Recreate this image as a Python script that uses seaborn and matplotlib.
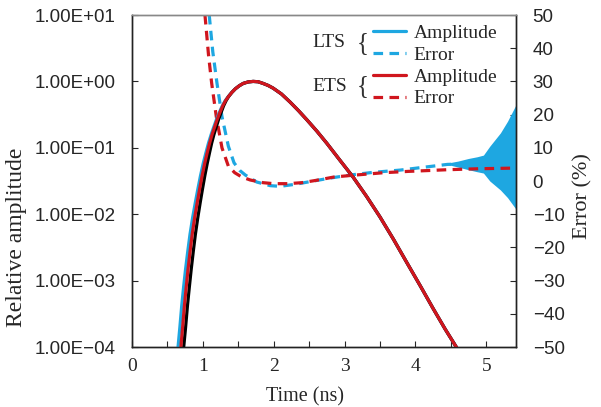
import matplotlib
matplotlib.use("Agg")
import matplotlib.pyplot as plt
import seaborn as sns
from matplotlib.lines import Line2D
from matplotlib.ticker import MultipleLocator, FixedLocator, FuncFormatter

sns.set_style("ticks")
plt.rcParams['font.family'] = ['Liberation Sans', 'DejaVu Sans']
plt.rcParams['font.sans-serif'] = ['Liberation Sans', 'DejaVu Sans']

# --- dados ---
# amplitude relativa (eixo log), mesma forma para as três curvas
amp = [7.9e-5, 1.0e-4, 2.0e-4, 4.2e-4, 7.9e-4, 1.45e-3, 2.75e-3, 5.0e-3, 8.9e-3, 1.48e-2, 2.4e-2,
       3.8e-2, 5.75e-2, 8.3e-2, 0.117, 0.158, 0.204, 0.263, 0.339, 0.427, 0.513, 0.589,
       0.684, 0.776, 0.861, 0.933, 0.982, 1.0, 0.989, 0.933, 0.871, 0.794, 0.646, 0.490,
       0.363, 0.263, 0.178, 0.117, 0.066, 0.0363, 0.0186, 9.1e-3, 4.2e-3, 1.86e-3, 8.3e-4,
       3.8e-4, 1.86e-4, 9.5e-5, 7.9e-5]
t_tail = [1.41, 1.46, 1.515, 1.57, 1.64, 1.71, 1.78, 1.85, 1.92, 1.99, 2.11, 2.23, 2.35, 2.47,
          2.61, 2.75, 2.93, 3.12, 3.31, 3.50, 3.69, 3.88, 4.07, 4.25, 4.42, 4.59, 4.63]
# subida: ETS (vermelho), LTS (azul), referência (preto)
t_ets_rise = [0.67, 0.69, 0.715, 0.74, 0.765, 0.79, 0.82, 0.85, 0.885, 0.92, 0.955,
              0.99, 1.025, 1.06, 1.095, 1.13, 1.165, 1.20, 1.24, 1.28, 1.32, 1.36]
t_lts_rise = [0.63, 0.65, 0.676, 0.702, 0.728, 0.755, 0.787, 0.819, 0.856, 0.893, 0.930,
              0.967, 1.004, 1.042, 1.079, 1.117, 1.153, 1.190, 1.232, 1.274, 1.316, 1.358]
t_ref_rise = [0.71, 0.73, 0.757, 0.783, 0.809, 0.835, 0.865, 0.895, 0.929, 0.962, 0.995,
              1.028, 1.061, 1.093, 1.124, 1.156, 1.188, 1.220, 1.257, 1.292, 1.328, 1.362]

# erro (%)
t_ets_err = [1.00, 1.03, 1.08, 1.125, 1.19, 1.27, 1.36, 1.45, 1.55, 1.67, 1.85, 2.0, 2.2, 2.4,
             2.6, 2.85, 3.1, 3.55, 3.9, 4.45, 4.9, 5.42]
ets_err = [58, 50, 38, 29.4, 19.4, 10.0, 4.5, 2.5, 1.2, 0.3, -0.5, -0.8, -0.8, -0.5,
           0.2, 1.2, 1.7, 2.5, 2.9, 3.4, 3.7, 3.9]

t_lts_err = [1.06, 1.09, 1.14, 1.20, 1.27, 1.36, 1.44, 1.52, 1.60, 1.76, 1.95, 2.09, 2.3, 2.51,
             2.8, 3.08, 3.4, 3.79, 4.1, 4.45, 4.7]
lts_err = [58, 50, 39, 29.4, 19.4, 10.5, 5.5, 3.2, 1.8, -0.3, -1.4, -1.6, -1.0, -0.2,
           0.9, 1.8, 2.6, 3.3, 4.1, 5.0, 5.2]

# envelope da oscilação do erro LTS no fim
t_osc = [4.45, 4.6, 4.75, 4.87, 4.96, 5.05, 5.2, 5.3, 5.42]
osc_hi = [5.4, 6.0, 6.8, 7.3, 7.8, 10.5, 14.5, 18.0, 23.0]
osc_lo = [5.0, 4.2, 3.4, 2.8, 2.4, 0.0, -2.7, -5.0, -8.5]

BLUE = '#1ea7e1'
RED = '#d0161e'
SERIF = ['Liberation Serif', 'DejaVu Serif']
DASH = (0, (3, 2))

fig = plt.figure(figsize=(6.01, 4.07), dpi=100)
ax = fig.add_axes([0.2196, 0.1474, 0.639, 0.8157])
ax2 = ax.twinx()

for t_rise, cor in [(t_lts_rise, BLUE), (t_ref_rise, 'black'), (t_ets_rise, RED)]:
    sns.lineplot(x=t_rise + t_tail, y=amp, ax=ax, color=cor, lw=2.3, sort=False, estimator=None)

ax2.fill_between(t_osc, osc_lo, osc_hi, color=BLUE, lw=0)
sns.lineplot(x=t_lts_err, y=lts_err, ax=ax2, color=BLUE, lw=2.3, sort=False, estimator=None,
             linestyle=DASH)
sns.lineplot(x=t_ets_err, y=ets_err, ax=ax2, color=RED, lw=2.3, sort=False, estimator=None,
             linestyle=DASH)

ax.set_yscale('log')
ax.set_ylim(1e-4, 1e1)
ax.set_xlim(0, 5.42)
ax2.set_ylim(-50, 50)
ax.set_zorder(ax2.get_zorder() + 1)
ax.patch.set_visible(False)

# ticks
ax.yaxis.set_major_locator(FixedLocator([1e-4, 1e-3, 1e-2, 1e-1, 1e0, 1e1]))
ax.yaxis.set_minor_locator(FixedLocator([]))
ax.yaxis.set_major_formatter(FuncFormatter(lambda v, p: f"{v:.2E}".replace('-', '\u2212')))
ax.xaxis.set_major_locator(MultipleLocator(1))
ax.xaxis.set_minor_locator(MultipleLocator(0.5))
ax.xaxis.set_major_formatter(FuncFormatter(lambda v, p: f"{v:.0f}"))
ax2.yaxis.set_major_locator(MultipleLocator(10))
ax2.yaxis.set_major_formatter(FuncFormatter(lambda v, p: f"{v:.0f}".replace('-', '\u2212')))

ax.tick_params(axis='y', direction='in', length=4, width=0.8, pad=12, labelsize=13.5, left=True, right=False)
ax.tick_params(axis='x', which='both', direction='in', length=4, width=0.8, pad=8, labelsize=14)
ax2.tick_params(axis='y', direction='in', length=4, width=0.8, pad=12, labelsize=13.5)
for lab in ax.get_xticklabels():
    lab.set_family(SERIF)

for a in (ax, ax2):
    for s in a.spines.values():
        s.set_linewidth(1.0)
        s.set_color('#222222')
    a.spines['top'].set_color('#888888')

ax.set_xlabel('Time (ns)', family=SERIF, fontsize=14.5)
ax.xaxis.set_label_coords(0.45, -0.122)
ax.set_ylabel('Relative amplitude', family=SERIF, fontsize=17)
ax.yaxis.set_label_coords(-0.273, 0.33)
ax2.set_ylabel('Error (%)', family=SERIF, fontsize=16)
ax2.yaxis.set_label_coords(1.15, 0.455)

# legenda
handles = [Line2D([], [], color=BLUE, lw=2.3),
           Line2D([], [], color=BLUE, lw=2.3, ls=DASH),
           Line2D([], [], color=RED, lw=2.3),
           Line2D([], [], color=RED, lw=2.3, ls=DASH)]
ax.legend(handles, ['Amplitude', 'Error', 'Amplitude', 'Error'], loc='upper left',
          bbox_to_anchor=(0.581, 1.025), frameon=False, handlelength=1.7, handletextpad=0.4,
          labelspacing=0.22, prop={'family': SERIF, 'size': 14})
for nome, ypos in [('LTS', 0.917), ('ETS', 0.786)]:
    ax.text(0.469, ypos, nome, transform=ax.transAxes, family=SERIF, fontsize=14, va='center')
    ax.text(0.585, ypos, '{', transform=ax.transAxes, family=SERIF, fontsize=18, va='center',
            fontweight='light', color='#333333')

fig.savefig('out.png', dpi=100)
plt.close(fig)
